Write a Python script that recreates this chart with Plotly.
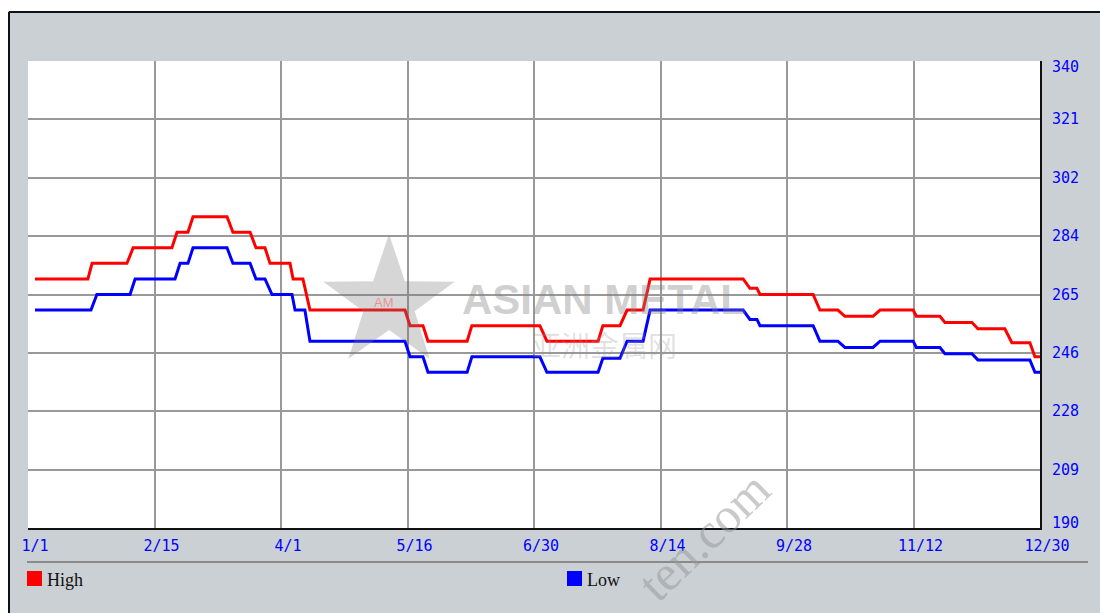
import plotly.graph_objects as go
import math

# ---- data (x = day index along the year axis) ----
high_days = [2.5, 21.3, 22.8, 35.2, 37.4, 51.2, 53.0, 56.9, 58.7, 70.8, 72.9, 79.0,
             81.1, 84.3, 86.1, 93.2, 94.3, 97.8, 100.3, 134.1, 135.9, 140.5, 142.3,
             156.2, 157.9, 182.1, 184.6, 202.8, 204.5, 210.6, 213.1, 218.8, 221.3,
             254.4, 256.8, 259.3, 260.4, 279.3, 281.7, 288.1, 290.6, 300.6, 303.1,
             314.9, 316.0, 324.4, 326.2, 335.8, 337.9, 347.5, 350.0, 356.4, 358.2, 360.0]
high_vals = [270, 270, 275, 275, 280, 280, 285, 285, 290, 290, 285, 285,
             280, 280, 275, 275, 270, 270, 260, 260, 255, 255, 250,
             250, 255, 255, 250, 250, 255, 255, 260, 260, 270,
             270, 267, 267, 265, 265, 260, 260, 258, 258, 260,
             260, 258, 258, 256, 256, 254, 254, 249.5, 249.5, 245, 245]

low_days = [2.5, 22.4, 24.5, 36.3, 38.1, 52.3, 54.1, 56.9, 58.7, 70.8, 72.9, 79.0,
            81.1, 84.3, 86.8, 93.9, 95.0, 98.5, 100.3, 134.1, 135.9, 140.5, 142.3,
            156.2, 157.9, 182.1, 184.6, 202.8, 204.5, 210.6, 213.1, 218.8, 221.3,
            254.4, 256.8, 259.3, 260.4, 279.3, 281.7, 288.1, 290.6, 300.6, 303.1,
            314.9, 316.0, 324.4, 326.2, 335.8, 337.9, 356.4, 358.2, 360.0]
low_vals = [260, 260, 265, 265, 270, 270, 275, 275, 280, 280, 275, 275,
            270, 270, 265, 265, 260, 260, 250, 250, 245, 245, 240,
            240, 245, 245, 240, 240, 244.5, 244.5, 250, 250, 260,
            260, 257, 257, 255, 255, 250, 250, 248, 248, 250,
            250, 248, 248, 246, 246, 244, 244, 240, 240]

x_tick_vals = [0, 45, 90, 135, 180, 225, 270, 315, 360]
x_tick_text = ["1/1", "2/15", "4/1", "5/16", "6/30", "8/14", "9/28", "11/12", "12/30"]
y_tick_vals = [190, 208.75, 227.5, 246.25, 265, 283.75, 302.5, 321.25, 340]
y_tick_text = ["190", "209", "228", "246", "265", "284", "302", "321", "340"]

series_names = ["High", "Low"]
series_colors = ["#FF0000", "#0000FF"]

# ---- geometry helpers (pixel -> paper) ----
W, H = 1100, 613
L, R, T, B = 28, 60, 61, 85
PW, PH = W - L - R, H - T - B
def px(x):
    return (x - L) / PW
def py(y):
    return (H - B - y) / PH

BG = "#CBD0D5"
TICK_FONT = dict(family="DejaVu Sans Mono", size=15, color="#0000FF")

fig = go.Figure()
fig.add_trace(go.Scatter(x=high_days, y=high_vals, mode="lines", name=series_names[0],
                         line=dict(color=series_colors[0], width=3), showlegend=False,
                         hoverinfo="x+y"))
fig.add_trace(go.Scatter(x=low_days, y=low_vals, mode="lines", name=series_names[1],
                         line=dict(color=series_colors[1], width=3), showlegend=False,
                         hoverinfo="x+y"))

shapes = []
annotations = []

# white strips and black border on top / left of the panel
shapes.append(dict(type="rect", xref="paper", yref="paper", x0=px(-5), x1=px(W + 5),
                   y0=py(11), y1=py(-5), fillcolor="white", line=dict(width=0), layer="below"))
shapes.append(dict(type="rect", xref="paper", yref="paper", x0=px(-5), x1=px(8),
                   y0=py(H + 5), y1=py(-5), fillcolor="white", line=dict(width=0), layer="below"))
shapes.append(dict(type="line", xref="paper", yref="paper", x0=px(9), x1=px(W + 5),
                   y0=py(12), y1=py(12), line=dict(color="#111111", width=2)))
shapes.append(dict(type="line", xref="paper", yref="paper", x0=px(9), x1=px(9),
                   y0=py(12), y1=py(H + 5), line=dict(color="#111111", width=2)))

# separator line above legend
shapes.append(dict(type="line", xref="paper", yref="paper", x0=px(27), x1=px(1088),
                   y0=py(562), y1=py(562), line=dict(color="#8A8A8A", width=2)))

# watermark star
cx, cy, ro, ri = 389, 303, 69, 27
pts = []
for k in range(10):
    a = -math.pi / 2 + k * math.pi / 5
    r = ro if k % 2 == 0 else ri
    pts.append((px(cx + r * math.cos(a)), py(cy + r * math.sin(a))))
path = "M " + " L ".join(f"{x:.5f},{y:.5f}" for x, y in pts) + " Z"
shapes.append(dict(type="path", xref="paper", yref="paper", path=path,
                   fillcolor="rgba(120,120,120,0.30)", line=dict(width=0), layer="above"))

# legend (manual, squares)
leg_pos = [(27, 45), (567, 585)]
for (sx, tx), name, col in zip(leg_pos, series_names, series_colors):
    shapes.append(dict(type="rect", xref="paper", yref="paper", x0=px(sx), x1=px(sx + 15),
                       y0=py(586), y1=py(571), fillcolor=col, line=dict(color=col, width=0)))
    annotations.append(dict(xref="paper", yref="paper", x=px(tx), y=py(580), text=name,
                            showarrow=False, xanchor="left", yanchor="middle",
                            font=dict(family="Liberation Serif", size=18, color="#111111")))

# y tick labels (right side)
for v, t in zip(y_tick_vals, y_tick_text):
    shift = -6 if v == y_tick_vals[-1] else (5 if v == y_tick_vals[0] else 0)
    annotations.append(dict(xref="paper", yref="y", x=1, y=v, text=t, showarrow=False,
                            xanchor="left", yanchor="middle", xshift=10, yshift=shift,
                            font=TICK_FONT))

# watermark texts
annotations.append(dict(xref="paper", yref="paper", x=px(384), y=py(302), text="AM",
                        showarrow=False, xanchor="center", yanchor="middle",
                        font=dict(family="Liberation Sans", size=13,
                                  color="rgba(255,60,60,0.45)")))
annotations.append(dict(xref="paper", yref="paper", x=px(604), y=py(299), text="<b>ASIAN METAL</b>",
                        showarrow=False, xanchor="center", yanchor="middle",
                        font=dict(family="Liberation Sans", size=42,
                                  color="rgba(130,130,130,0.38)")))
annotations.append(dict(xref="paper", yref="paper", x=px(604), y=py(344), text="亚洲金属网",
                        showarrow=False, xanchor="center", yanchor="middle",
                        font=dict(family="Noto Sans CJK SC", size=29,
                                  color="rgba(150,150,150,0.28)")))
annotations.append(dict(xref="paper", yref="paper", x=px(704), y=py(536), text="ten.com",
                        showarrow=False, textangle=-44, xanchor="center", yanchor="middle",
                        font=dict(family="Liberation Serif", size=50,
                                  color="rgba(150,150,150,0.50)")))

fig.update_layout(
    width=W, height=H,
    margin=dict(l=L, r=R, t=T, b=B, pad=0),
    paper_bgcolor=BG, plot_bgcolor="white",
    showlegend=False,
    shapes=shapes, annotations=annotations,
    xaxis=dict(range=[0, 360], tickmode="array", tickvals=x_tick_vals, ticktext=x_tick_text,
               showgrid=True, gridcolor="#999999", gridwidth=2, zeroline=False,
               showline=True, linecolor="#111111", linewidth=2, ticks="",
               tickfont=TICK_FONT, ticklabelshift=7, ticklabelstandoff=3, fixedrange=True),
    yaxis=dict(range=[190, 340], tickmode="array", tickvals=y_tick_vals,
               side="right", showticklabels=False,
               showgrid=True, gridcolor="#999999", gridwidth=2, zeroline=False,
               showline=True, linecolor="#111111", linewidth=2, ticks="", fixedrange=True),
)

fig.write_html("out.html", config={"displayModeBar": False},
               post_script="document.body.style.margin='0';document.body.style.overflow='hidden';")
